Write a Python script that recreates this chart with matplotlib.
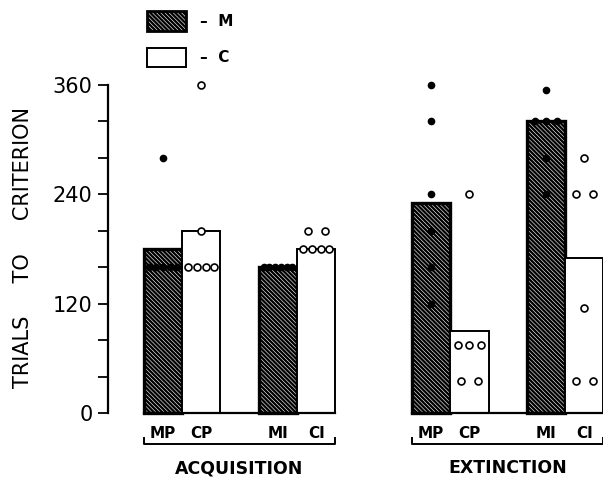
import matplotlib
matplotlib.use("Agg")
import matplotlib.pyplot as plt
import matplotlib.patches as mpatches
from collections import Counter

# bar layout / data
bar_labels = ['MP', 'CP', 'MI', 'CI', 'MP', 'CP', 'MI', 'CI']
bar_pos = [0, 1, 3, 4, 7, 8, 10, 11]
bar_means = [180, 200, 160, 180, 230, 90, 320, 170]
bar_kind = ['M', 'C', 'M', 'C', 'M', 'C', 'M', 'C']
subjects = [
    [280, 160, 160, 160, 160, 160],
    [360, 200, 160, 160, 160, 160],
    [160, 160, 160, 160, 160, 160],
    [200, 200, 180, 180, 180, 180],
    [360, 320, 240, 200, 160, 120],
    [240, 75, 75, 75, 35, 35],
    [355, 320, 320, 320, 280, 240],
    [280, 240, 240, 115, 35, 35],
]
groups = ['ACQUISITION', 'EXTINCTION']
group_bars = [[0, 1, 2, 3], [4, 5, 6, 7]]

HATCH = '\\' * 8
plt.rcParams['hatch.linewidth'] = 1.7
plt.rcParams['font.family'] = 'DejaVu Sans'

fig = plt.figure(figsize=(6.03, 4.79), dpi=100)
ax = fig.add_axes([108/603, 66/479, 495/603, 328/479])

for i in range(len(bar_pos)):
    if bar_kind[i] == 'M':
        ax.bar(bar_pos[i], bar_means[i], width=1, color='white', edgecolor='black',
               hatch=HATCH, linewidth=2.4, clip_on=False, zorder=2)
    else:
        ax.bar(bar_pos[i], bar_means[i], width=1, color='white', edgecolor='black',
               linewidth=1.4, clip_on=False, zorder=2)

    # individual subjects, spread sideways when they share a value
    cnt = Counter(subjects[i])
    for val, n in cnt.items():
        sp = 0.9 / n if n > 1 else 0
        xs = [bar_pos[i] + (k - (n - 1) / 2) * sp for k in range(n)]
        if bar_kind[i] == 'M':
            ax.plot(xs, [val] * n, 'o', ms=4.5, color='black', clip_on=False, zorder=3)
        else:
            ax.plot(xs, [val] * n, 'o', ms=5, mfc='white', mec='black', mew=1.2,
                    clip_on=False, zorder=3)

# baselines, labels and brackets under each group
tr = ax.get_xaxis_transform()
for g, idx in zip(groups, group_bars):
    x0 = bar_pos[idx[0]] - 0.5
    x1 = bar_pos[idx[-1]] + 0.5
    ax.plot([x0, x1], [0, 0], color='black', lw=1.6, clip_on=False, zorder=4)
    ax.plot([x0, x0, x1, x1], [-0.075, -0.095, -0.095, -0.075], color='black',
            lw=1.4, transform=tr, clip_on=False)
    for j in idx:
        ax.text(bar_pos[j], -0.064, bar_labels[j], transform=tr, ha='center',
                va='center', fontsize=11, fontweight='bold')
    ax.text((x0 + x1) / 2, -0.168, g, transform=tr, ha='center', va='center',
            fontsize=12.5, fontweight='bold')

ax.set_xlim(-1.436, 11.488)
ax.set_ylim(0, 360)
ax.set_yticks([0, 120, 240, 360])
ax.set_yticks(range(0, 361, 40), minor=True)
ax.tick_params(axis='y', which='both', direction='out', length=7, width=1.3, pad=4,
               labelsize=15)
ax.set_xticks([])
for s in ['top', 'right', 'bottom']:
    ax.spines[s].set_visible(False)
ax.spines['left'].set_linewidth(1.6)

fig.text(23/603, 1 - 247/479, 'TRIALS     TO     CRITERION', rotation=90,
         ha='center', va='center', fontsize=15)

# legend
fig.patches.append(mpatches.Rectangle((147/603, 1 - 31/479), 39/603, 20/479,
                   transform=fig.transFigure, facecolor='white', edgecolor='black',
                   hatch=HATCH, linewidth=2))
fig.patches.append(mpatches.Rectangle((147/603, 1 - 67/479), 39/603, 19/479,
                   transform=fig.transFigure, facecolor='white', edgecolor='black',
                   linewidth=1.4))
fig.text(200/603, 1 - 21/479, '–  M', ha='left', va='center', fontsize=11,
         fontweight='bold')
fig.text(200/603, 1 - 57/479, '–  C', ha='left', va='center', fontsize=11,
         fontweight='bold')

fig.savefig('out.png', dpi=100)
